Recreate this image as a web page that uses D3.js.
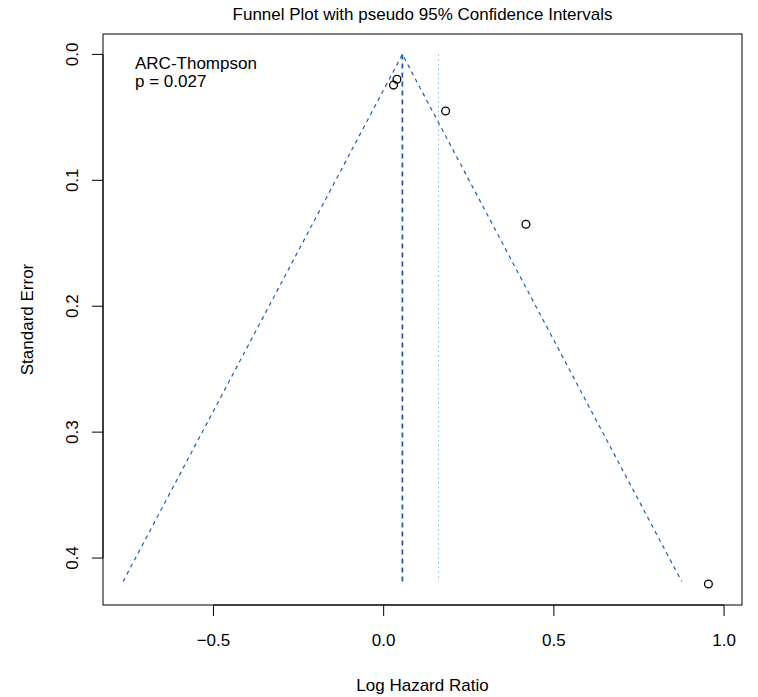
<!DOCTYPE html>
<html>
<head>
<meta charset="utf-8">
<script src="https://cdn.jsdelivr.net/npm/d3@7"></script>
<style>
  html, body { margin: 0; padding: 0; background: #fff; }
  text { font-family: "Liberation Sans", Arial, Helvetica, sans-serif; }
</style>
</head>
<body>
<svg id="chart" width="758" height="697"></svg>
<script>
// ---- data ----
const studyEffect = [0.039, 0.029, 0.182, 0.418, 0.954];   // log hazard ratio
const studySE     = [0.0198, 0.0244, 0.045, 0.1349, 0.4206]; // standard error
const pooledEstimate = 0.055;   // funnel centre (dashed)
const secondEstimate = 0.161;   // dotted reference line
const funnelMaxSE = 0.4186;
const zCrit = 1.96;
const xTicks = [-0.5, 0.0, 0.5, 1.0];
const xTickLabels = ["\u22120.5", "0.0", "0.5", "1.0"];
const yTicks = [0.0, 0.1, 0.2, 0.3, 0.4];
const yTickLabels = ["0.0", "0.1", "0.2", "0.3", "0.4"];
const xDomain = [-0.8245, 1.0527];
const yDomain = [-0.0162, 0.4373];
const titleText = "Funnel Plot with pseudo 95% Confidence Intervals";
const xLabel = "Log Hazard Ratio";
const yLabel = "Standard Error";
const annot = ["ARC-Thompson", "p = 0.027"];

// ---- layout ----
const L = 103, R = 742, T = 34, B = 605;
const svg = d3.select("#chart");
const x = d3.scaleLinear().domain(xDomain).range([L, R]);
const y = d3.scaleLinear().domain(yDomain).range([T, B]);
const fs = 17;
const tickLen = 11;

// funnel lines
const funnel = [
  [pooledEstimate - zCrit * funnelMaxSE, funnelMaxSE],
  [pooledEstimate, 0],
  [pooledEstimate + zCrit * funnelMaxSE, funnelMaxSE]
];
const line = d3.line().x(d => x(d[0])).y(d => y(d[1]));
svg.append("path").attr("d", line(funnel))
  .attr("fill", "none").attr("stroke", "#1f5ea8").attr("stroke-width", 1.2)
  .attr("stroke-dasharray", "4,4");

// vertical pooled line (dashed)
svg.append("line")
  .attr("x1", x(pooledEstimate)).attr("x2", x(pooledEstimate))
  .attr("y1", y(0)).attr("y2", y(funnelMaxSE))
  .attr("stroke", "#1f5ea8").attr("stroke-width", 1.8)
  .attr("stroke-dasharray", "5,4");

// dotted second line
svg.append("line")
  .attr("x1", x(secondEstimate)).attr("x2", x(secondEstimate))
  .attr("y1", y(0)).attr("y2", y(funnelMaxSE))
  .attr("stroke", "#7db8e3").attr("stroke-width", 1)
  .attr("stroke-dasharray", "1.5,3.2");

// points
svg.append("g").selectAll("circle")
  .data(studyEffect.map((e, i) => [e, studySE[i]]))
  .join("circle")
  .attr("cx", d => x(d[0])).attr("cy", d => y(d[1]))
  .attr("r", 3.9).attr("fill", "none").attr("stroke", "#000").attr("stroke-width", 1.3);

// box
svg.append("rect").attr("x", L).attr("y", T).attr("width", R - L).attr("height", B - T)
  .attr("fill", "none").attr("stroke", "#000").attr("stroke-width", 1);

// x axis
const xa = svg.append("g");
xa.append("line").attr("x1", x(xTicks[0])).attr("x2", x(xTicks[xTicks.length - 1]))
  .attr("y1", B).attr("y2", B).attr("stroke", "#000");
xa.selectAll("line.t").data(xTicks).join("line").attr("class", "t")
  .attr("x1", d => x(d)).attr("x2", d => x(d)).attr("y1", B).attr("y2", B + tickLen)
  .attr("stroke", "#000");
xa.selectAll("text").data(xTicks).join("text")
  .attr("x", d => x(d)).attr("y", 646).attr("text-anchor", "middle")
  .attr("font-size", fs).text((d, i) => xTickLabels[i]);

// y axis
const ya = svg.append("g");
ya.append("line").attr("x1", L).attr("x2", L)
  .attr("y1", y(yTicks[0])).attr("y2", y(yTicks[yTicks.length - 1])).attr("stroke", "#000");
ya.selectAll("line.t").data(yTicks).join("line").attr("class", "t")
  .attr("x1", L - tickLen).attr("x2", L).attr("y1", d => y(d)).attr("y2", d => y(d))
  .attr("stroke", "#000");
ya.selectAll("text").data(yTicks).join("text")
  .attr("transform", d => `translate(78,${y(d)}) rotate(-90)`)
  .attr("text-anchor", "middle").attr("font-size", fs)
  .text((d, i) => yTickLabels[i]);

// titles
svg.append("text").attr("x", (L + R) / 2).attr("y", 20).attr("text-anchor", "middle")
  .attr("font-size", fs).text(titleText);
svg.append("text").attr("x", (L + R) / 2).attr("y", 691).attr("text-anchor", "middle")
  .attr("font-size", fs).text(xLabel);
svg.append("text").attr("transform", `translate(33,${(T + B) / 2}) rotate(-90)`)
  .attr("text-anchor", "middle").attr("font-size", fs).text(yLabel);

// annotation
svg.selectAll("text.annot").data(annot).join("text").attr("class", "annot")
  .attr("x", 135).attr("y", (d, i) => 69 + i * 18)
  .attr("font-size", fs).text(d => d);
</script>
</body>
</html>
